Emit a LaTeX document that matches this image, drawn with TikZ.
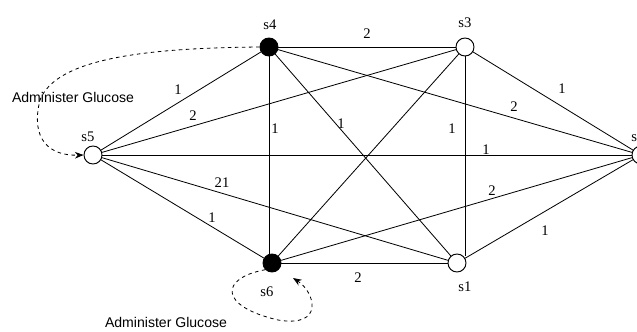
\documentclass[tikz,border=0pt]{standalone}
\usepackage{fontspec}
\setmainfont{Liberation Serif}
\newfontfamily\glufont{Liberation Sans}
\usetikzlibrary{arrows.meta,positioning}
\tikzset{
  state/.style={circle, draw, line width=0.8pt, fill=white, minimum size=5.4mm, inner sep=0pt},
  fed/.style={state, fill=black},
  tag/.style={font=\rmfamily\fontsize{12.5}{14}\selectfont, inner sep=1pt},
  wt/.style={font=\rmfamily\fontsize{12.5}{14}\selectfont, inner sep=1pt},
  link/.style={line width=0.7pt},
  dose/.style={dashed, line width=0.7pt, -{Stealth[length=2.6mm,width=2mm]}},
  note/.style={font=\glufont\fontsize{12}{14}\selectfont, inner sep=0pt},
}

\begin{document}
\begin{tikzpicture}[x=0.03cm, y=-0.03cm]
    \useasboundingbox (0,0) rectangle (637,331);
    % states
    \node[fed] (s4) at (269,47) {};
    \node[state] (s3) at (465,47) {};
    \node[state] (s5) at (93,155) {};
    \node[state] (s2) at (641,155) {};
    \node[fed] (s6) at (272,263) {};
    \node[state] (s1) at (457,263) {};
    \node[tag] (l4) at (270,25) {s4};
    \node[tag] (l3) at (465,23) {s3};
    \node[tag] (l5) at (88,137) {s5};
    \node[tag] (l2) at (638,137) {s2};
    \node[tag] (l6) at (267,292) {s6};
    \node[tag] (l1) at (465,287) {s1};
    % transitions
    \draw[link] (s4) -- (s3);
    \draw[link] (s4) -- (s5);
    \draw[link] (s4.south) -- (s4 |- s6.north);
    \draw[link] (s4) -- (s1);
    \draw[link] (s4) -- (s2);
    \draw[link] (s3) -- (s5);
    \draw[link] (s3) -- (s6);
    \draw[link] (s3.south) -- (s3 |- s1.north east);
    \draw[link] (s3) -- (s2);
    \draw[link] (s5) -- (s2);
    \draw[link] (s5) -- (s1);
    \draw[link] (s5) -- (s6);
    \draw[link] (s6) -- (s1);
    \draw[link] (s6) -- (s2);
    \draw[link] (s1) -- (s2);
    % weights
    \node[wt] at (367,34) {2};
    \node[wt] at (178,90) {1};
    \node[wt] at (193,116) {2};
    \node[wt] at (275,129) {1};
    \node[wt] at (341,124) {1};
    \node[wt] at (452,129) {1};
    \node[wt] at (514,107) {2};
    \node[wt] at (562,89) {1};
    \node[wt] at (486,150) {1};
    \node[wt] at (222,183) {21};
    \node[wt] at (212,218) {1};
    \node[wt] at (492,191) {2};
    \node[wt] at (545,231) {1};
    \node[wt] at (358,278) {2};
    % glucose
    \node[note] (g1) at (73,97) {Administer Glucose};
    \node[note] (g2) at (166,322) {Administer Glucose};
    \draw[dose] (s4.west) .. controls (130,48) and (55,62) .. (40,100)
                .. controls (30,140) and (50,156) .. (s5.west);
    \draw[dose] (s6.south west) .. controls (220,278) and (218,306) .. (278,320)
                .. controls (325,328) and (315,292) .. (293,278);
\end{tikzpicture}
\end{document}
